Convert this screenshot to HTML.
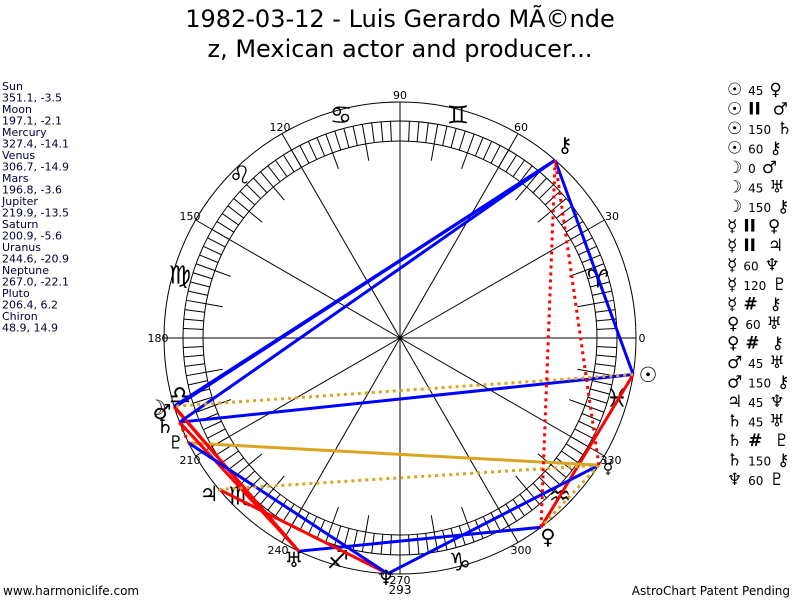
<!DOCTYPE html>
<html><head><meta charset="utf-8"><style>
body{margin:0;background:#fff;width:800px;height:600px;overflow:hidden}
svg{display:block}
.t{font-family:"DejaVu Sans","Liberation Sans",sans-serif}
</style></head><body>
<svg id="s" width="800" height="600" xmlns="http://www.w3.org/2000/svg">
<g class="t" fill="#000">
<text x="400" y="27" font-size="24" text-anchor="middle">1982-03-12 - Luis Gerardo MÃ©nde</text>
<text x="400" y="57" font-size="24" text-anchor="middle">z, Mexican actor and producer...</text>
</g>
<g class="t" font-size="11" fill="#000033">
<text x="2" y="90">Sun</text><text x="2" y="101.5">351.1, -3.5</text>
<text x="2" y="113">Moon</text><text x="2" y="124.5">197.1, -2.1</text>
<text x="2" y="136">Mercury</text><text x="2" y="147.5">327.4, -14.1</text>
<text x="2" y="159">Venus</text><text x="2" y="170.5">306.7, -14.9</text>
<text x="2" y="182">Mars</text><text x="2" y="193.5">196.8, -3.6</text>
<text x="2" y="205">Jupiter</text><text x="2" y="216.5">219.9, -13.5</text>
<text x="2" y="228">Saturn</text><text x="2" y="239.5">200.9, -5.6</text>
<text x="2" y="251">Uranus</text><text x="2" y="262.5">244.6, -20.9</text>
<text x="2" y="274">Neptune</text><text x="2" y="285.5">267.0, -22.1</text>
<text x="2" y="297">Pluto</text><text x="2" y="308.5">206.4, 6.2</text>
<text x="2" y="320">Chiron</text><text x="2" y="331.5">48.9, 14.9</text>
</g>
<g class="t" font-size="12" fill="#000">
<text x="3" y="595">www.harmoniclife.com</text>
<text x="790" y="595" text-anchor="end">AstroChart Patent Pending</text>
</g>
<g class="t" font-size="17" font-weight="bold" fill="#000">
<text x="727" y="95">☉ <tspan font-size="12" font-weight="normal">45</tspan> ♀</text>
<text x="727" y="114.5">☉ II &#160;♂</text>
<text x="727" y="134">☉ <tspan font-size="12" font-weight="normal">150</tspan> ♄</text>
<text x="727" y="153.5">☉ <tspan font-size="12" font-weight="normal">60</tspan> ⚷</text>
<text x="727" y="173">☽ <tspan font-size="12" font-weight="normal">0</tspan> ♂</text>
<text x="727" y="192.5">☽ <tspan font-size="12" font-weight="normal">45</tspan> ♅</text>
<text x="727" y="212">☽ <tspan font-size="12" font-weight="normal">150</tspan> ⚷</text>
<text x="727" y="231.5">☿ II &#160;♀</text>
<text x="727" y="251">☿ II &#160;♃</text>
<text x="727" y="270.5">☿ <tspan font-size="12" font-weight="normal">60</tspan> ♆</text>
<text x="727" y="290">☿ <tspan font-size="12" font-weight="normal">120</tspan> ♇</text>
<text x="727" y="309.5">☿ # &#160;⚷</text>
<text x="727" y="329">♀ <tspan font-size="12" font-weight="normal">60</tspan> ♅</text>
<text x="727" y="348.5">♀ # &#160;⚷</text>
<text x="727" y="368">♂ <tspan font-size="12" font-weight="normal">45</tspan> ♅</text>
<text x="727" y="387.5">♂ <tspan font-size="12" font-weight="normal">150</tspan> ⚷</text>
<text x="727" y="407">♃ <tspan font-size="12" font-weight="normal">45</tspan> ♆</text>
<text x="727" y="426.5">♄ <tspan font-size="12" font-weight="normal">45</tspan> ♅</text>
<text x="727" y="446">♄ # &#160;♇</text>
<text x="727" y="465.5">♄ <tspan font-size="12" font-weight="normal">150</tspan> ⚷</text>
<text x="727" y="485">♆ <tspan font-size="12" font-weight="normal">60</tspan> ♇</text>
</g>
<g id="wheel" fill="none" stroke="#000" stroke-width="1">
<circle cx="400" cy="338" r="236"/>
<circle cx="400" cy="338" r="217"/>
<circle cx="400" cy="338" r="197"/>
</g>
<g class="t" font-size="11" fill="#000" text-anchor="middle">
<text x="642" y="342">0</text><text x="612" y="220">30</text><text x="521" y="131">60</text>
<text x="400" y="99">90</text><text x="280" y="131">120</text><text x="190" y="220">150</text>
<text x="158" y="342">180</text><text x="190" y="464">210</text><text x="278" y="554">240</text>
<text x="400" y="584">270</text><text x="521" y="554">300</text><text x="611" y="464">330</text>
<text x="400" y="594" font-size="12">293</text>
</g>
<g class="t" font-size="25" font-weight="bold" fill="#000" text-anchor="middle" dominant-baseline="central">
<text x="598" y="279">♈</text><text x="458" y="115">♊</text><text x="341" y="115">♋</text>
<text x="240" y="175">♌</text><text x="180" y="275">♍</text><text x="180" y="395">♎</text>
<text x="240" y="496">♏</text><text x="338" y="560">♐</text><text x="460" y="562">♑</text>
<text x="560" y="496">♒</text><text x="617" y="398">♓</text>
</g>
<g id="asp" fill="none" stroke-width="3"></g>
<g class="t" font-size="21" font-weight="bold" fill="#000" text-anchor="middle" dominant-baseline="central">
<text x="648" y="375">☉</text>
<text x="157" y="408">☽</text><text x="162" y="412">♂</text>
<text x="165" y="426">♄</text>
<text x="176" y="443" font-size="18">♇</text>
<text x="608" y="468" font-size="18">☿</text>
<text x="548" y="537">♀</text>
<text x="209" y="494">♃</text>
<text x="294" y="560">♅</text>
<text x="386" y="578">♆</text>
<text x="565" y="145">⚷</text>
</g>
<script>
var s=document.getElementById('wheel'),ns="http://www.w3.org/2000/svg",cx=400,cy=338;
function P(a,r){a=a*Math.PI/180;return[cx+r*Math.cos(a),cy-r*Math.sin(a)];}
function L(g,a,b,c,w,d){var l=document.createElementNS(ns,'line');l.setAttribute('x1',a[0]);l.setAttribute('y1',a[1]);l.setAttribute('x2',b[0]);l.setAttribute('y2',b[1]);l.setAttribute('stroke',c);l.setAttribute('stroke-width',w);if(d)l.setAttribute('stroke-dasharray',d);g.appendChild(l);}
for(var a=0;a<360;a+=2.5)L(s,P(a,197),P(a,217),'#000',1);
for(var a=0;a<360;a+=10){if(a%30==0)L(s,[cx,cy],P(a,236),'#000',1);else L(s,P(a,180),P(a,197),'#000',1);}
var pos={su:351.1,mo:197.1,me:327.4,ve:306.7,ma:196.8,ju:219.9,sa:200.9,ur:244.6,ne:267,pl:206.4,ch:48.9};
var g=document.getElementById('asp'),R=236;
var A=[['su','ve','red',''],['su','sa','blue',''],['su','ch','blue',''],['mo','ur','red',''],['mo','ch','blue',''],
['me','ne','blue',''],['me','pl','goldenrod',''],['ve','ur','blue',''],['ma','ur','red',''],['ma','ch','blue',''],
['ju','ne','red',''],['sa','ur','red',''],['sa','ch','blue',''],['ne','pl','blue',''],
['su','ma','goldenrod','3 4'],['me','ve','goldenrod','3 4'],['me','ju','goldenrod','3 4'],
['me','ch','red','3 4'],['ve','ch','red','3 4'],['sa','pl','red','3 4']];
A.forEach(function(x){L(g,P(pos[x[0]],R),P(pos[x[1]],R),x[2],3,x[3]);});
</script>
</svg>
</body></html>
